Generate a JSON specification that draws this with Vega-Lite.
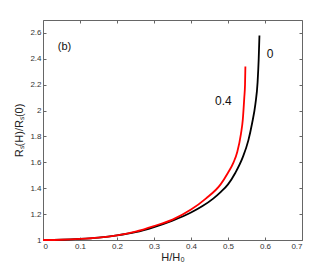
{
  "$schema": "https://vega.github.io/schema/vega-lite/v6.json",
  "width": 259,
  "height": 220,
  "padding": {"left": 43, "top": 20, "right": 31, "bottom": 31},
  "autosize": {"type": "none"},
  "background": "white",
  "config": {
    "view": {"stroke": "#666666", "strokeWidth": 1},
    "font": "Liberation Sans",
    "axis": {
      "grid": false,
      "domain": false,
      "tickSize": -3,
      "tickColor": "#666666",
      "labelColor": "#333333",
      "labelFontSize": 8,
      "titleFontSize": 11,
      "titleFontWeight": "normal",
      "titleColor": "#222222",
      "format": "~g"
    }
  },
  "datasets": {
    "curves": [
      {"H": 0.0, "R": 1.0, "s": "0"},
      {"H": 0.05, "R": 1.002, "s": "0"},
      {"H": 0.1, "R": 1.008, "s": "0"},
      {"H": 0.15, "R": 1.018, "s": "0"},
      {"H": 0.2, "R": 1.035, "s": "0"},
      {"H": 0.25, "R": 1.06, "s": "0"},
      {"H": 0.3, "R": 1.1, "s": "0"},
      {"H": 0.35, "R": 1.15, "s": "0"},
      {"H": 0.4, "R": 1.212, "s": "0"},
      {"H": 0.43, "R": 1.26, "s": "0"},
      {"H": 0.46, "R": 1.32, "s": "0"},
      {"H": 0.48, "R": 1.37, "s": "0"},
      {"H": 0.5, "R": 1.43, "s": "0"},
      {"H": 0.52, "R": 1.52, "s": "0"},
      {"H": 0.54, "R": 1.64, "s": "0"},
      {"H": 0.555, "R": 1.77, "s": "0"},
      {"H": 0.565, "R": 1.9, "s": "0"},
      {"H": 0.574, "R": 2.05, "s": "0"},
      {"H": 0.58, "R": 2.22, "s": "0"},
      {"H": 0.583, "R": 2.4, "s": "0"},
      {"H": 0.585, "R": 2.58, "s": "0"},
      {"H": 0.0, "R": 1.0, "s": "0.4"},
      {"H": 0.05, "R": 1.002, "s": "0.4"},
      {"H": 0.1, "R": 1.008, "s": "0.4"},
      {"H": 0.15, "R": 1.018, "s": "0.4"},
      {"H": 0.2, "R": 1.036, "s": "0.4"},
      {"H": 0.25, "R": 1.065, "s": "0.4"},
      {"H": 0.3, "R": 1.108, "s": "0.4"},
      {"H": 0.35, "R": 1.158, "s": "0.4"},
      {"H": 0.4, "R": 1.235, "s": "0.4"},
      {"H": 0.44, "R": 1.32, "s": "0.4"},
      {"H": 0.48, "R": 1.43, "s": "0.4"},
      {"H": 0.5, "R": 1.52, "s": "0.4"},
      {"H": 0.515, "R": 1.6, "s": "0.4"},
      {"H": 0.525, "R": 1.68, "s": "0.4"},
      {"H": 0.535, "R": 1.82, "s": "0.4"},
      {"H": 0.54, "R": 1.93, "s": "0.4"},
      {"H": 0.544, "R": 2.1, "s": "0.4"},
      {"H": 0.546, "R": 2.2, "s": "0.4"},
      {"H": 0.547, "R": 2.34, "s": "0.4"}
    ],
    "labels": [
      {"H": 0.04, "R": 2.47, "t": "(b)", "size": 11},
      {"H": 0.605, "R": 2.41, "t": "0", "size": 12},
      {"H": 0.465, "R": 2.04, "t": "0.4", "size": 12}
    ]
  },
  "layer": [
    {
      "data": {"name": "curves"},
      "mark": {"type": "line", "strokeWidth": 1.8, "interpolate": "monotone"},
      "encoding": {
        "x": {
          "field": "H", "type": "quantitative",
          "scale": {"domain": [0, 0.7], "nice": false, "zero": false},
          "axis": {"values": [0, 0.1, 0.2, 0.3, 0.4, 0.5, 0.6, 0.7], "format": "~g", "title": "H/H₀", "labelPadding": 5, "titlePadding": 1}
        },
        "y": {
          "field": "R", "type": "quantitative",
          "scale": {"domain": [1, 2.7], "nice": false, "zero": false},
          "axis": {"values": [1, 1.2, 1.4, 1.6, 1.8, 2, 2.2, 2.4, 2.6], "format": "~g", "title": "Rₛ(H)/Rₛ(0)", "labelPadding": 5, "titlePadding": 5}
        },
        "color": {
          "field": "s", "type": "nominal",
          "scale": {"domain": ["0.4", "0"], "range": ["#ff0000", "#000000"]},
          "legend": null
        },
        "order": {"field": "H", "type": "quantitative"}
      }
    },
    {
      "data": {"name": "labels"},
      "mark": {"type": "text", "align": "left", "baseline": "alphabetic", "color": "#111111"},
      "encoding": {
        "x": {"field": "H", "type": "quantitative", "axis": {"orient": "top", "values": [0, 0.1, 0.2, 0.3, 0.4, 0.5, 0.6, 0.7], "labels": false, "title": null}},
        "y": {"field": "R", "type": "quantitative", "axis": {"orient": "right", "values": [1, 1.2, 1.4, 1.6, 1.8, 2, 2.2, 2.4, 2.6], "labels": false, "title": null}},
        "text": {"field": "t"},
        "size": {"field": "size", "type": "quantitative", "scale": null}
      }
    }
  ],
  "resolve": {"axis": {"x": "independent", "y": "independent"}}
}
